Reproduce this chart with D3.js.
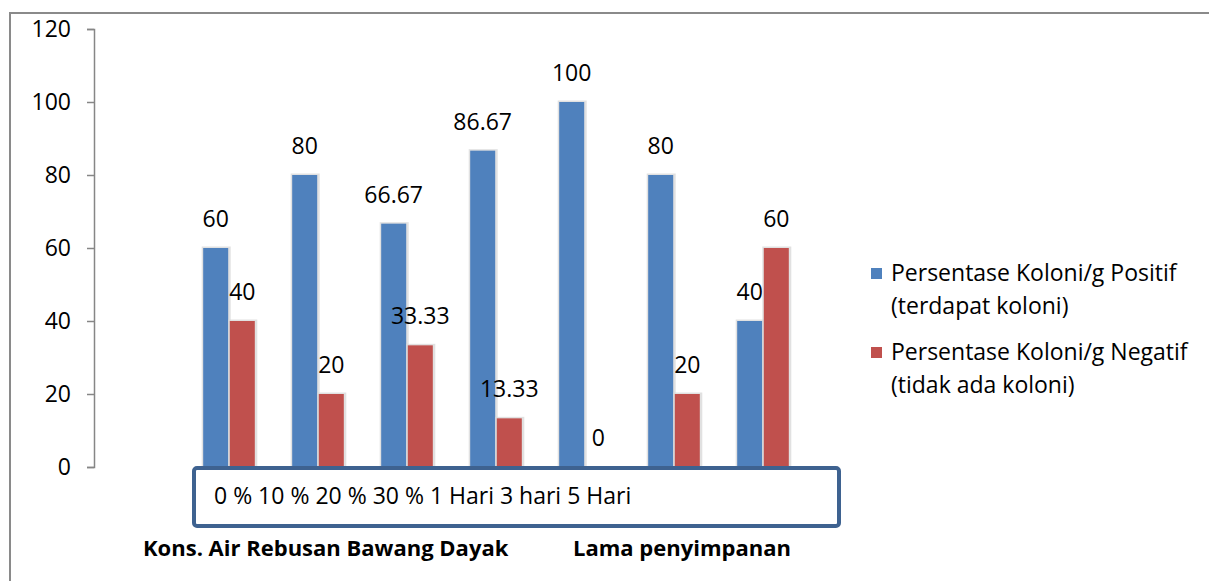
<!DOCTYPE html>
<html><head><meta charset="utf-8">
<script src="https://cdn.jsdelivr.net/npm/d3@7"></script>
<style>body{margin:0;background:#fff}svg{display:block}text{font-family:"Open Sans",sans-serif}</style>
</head><body>
<svg id="c" width="1209" height="581"></svg>
<script>
const categories = ["0 %","10 %","20 %","30 %","1 Hari","3 hari","5 Hari"];
const positif = [60, 80, 66.67, 86.67, 100, 80, 40];
const negatif = [40, 20, 33.33, 13.33, 0, 20, 60];
const yTicks = [0, 20, 40, 60, 80, 100, 120];
const seriesNames = [["Persentase Koloni/g Positif","(terdapat koloni)"],["Persentase Koloni/g Negatif","(tidak ada koloni)"]];
const groupTitles = ["Kons. Air Rebusan Bawang Dayak","Lama penyimpanan"];
const colors = ["#4F81BD","#C0504D"];

const svg = d3.select("#c");
svg.append("rect").attr("x",10).attr("y",13).attr("width",1210).attr("height",600)
  .attr("fill","none").attr("stroke","#8a8a8a").attr("stroke-width",2);

const y = d3.scaleLinear().domain([0,120]).range([467,29]);
const x = d3.scaleBand().domain(categories).range([184.5,807.5]).paddingInner(0.42).paddingOuter(0.21);
const sub = d3.scaleBand().domain([0,1]).range([0,x.bandwidth()]).paddingInner(0.06);

const yAxis = svg.append("g").attr("transform","translate(94,0)")
  .call(d3.axisLeft(y).tickValues(yTicks).tickSize(7).tickPadding(16));
yAxis.select(".domain").attr("stroke","#868686").attr("stroke-width",1.5);
yAxis.selectAll(".tick line").attr("stroke","#868686").attr("stroke-width",1.5);
yAxis.selectAll(".tick text").attr("font-size",23).attr("fill","#000").attr("font-family","Open Sans");

const series = [positif, negatif];
series.forEach((vals, si) => {
  const g = svg.append("g");
  g.selectAll("rect.sh").data(vals).join("rect")
    .attr("x",(d,i)=>x(categories[i])+sub(si)-1.5)
    .attr("y",d=>y(d)-1.5)
    .attr("width",sub.bandwidth()+4)
    .attr("height",d=>y(0)-y(d)+1.5)
    .attr("fill","#d9d9d9").attr("opacity",d=>d>0?0.8:0);
  g.selectAll("rect.b").data(vals).join("rect")
    .attr("x",(d,i)=>x(categories[i])+sub(si))
    .attr("y",d=>y(d))
    .attr("width",sub.bandwidth())
    .attr("height",d=>y(0)-y(d))
    .attr("fill",colors[si]);
  g.selectAll("text").data(vals).join("text")
    .attr("x",(d,i)=>x(categories[i])+sub(si)+sub.bandwidth()/2)
    .attr("y",d=>y(d)-21)
    .attr("text-anchor","middle").attr("font-size",23).attr("fill","#000")
    .text(d=>d);
});

svg.append("rect").attr("x",194).attr("y",468).attr("width",645).attr("height",58).attr("rx",3)
  .attr("fill","#fff").attr("stroke","#3E6290").attr("stroke-width",4);
svg.append("text").attr("x",214).attr("y",504).attr("font-size",23).attr("fill","#000")
  .text(categories.join(" "));

svg.append("text").attr("x",143).attr("y",556).attr("font-size",22).attr("font-weight","bold").text(groupTitles[0]);
svg.append("text").attr("x",573).attr("y",556).attr("font-size",22).attr("font-weight","bold").text(groupTitles[1]);

const leg = svg.append("g");
seriesNames.forEach((lines, i) => {
  const y0 = 268 + i*79;
  leg.append("rect").attr("x",871).attr("y",y0).attr("width",11).attr("height",11).attr("fill",colors[i]);
  lines.forEach((t, j) => {
    leg.append("text").attr("x",891).attr("y",y0+13+j*33).attr("font-size",23).attr("fill","#000").text(t);
  });
});
</script>
</body></html>
